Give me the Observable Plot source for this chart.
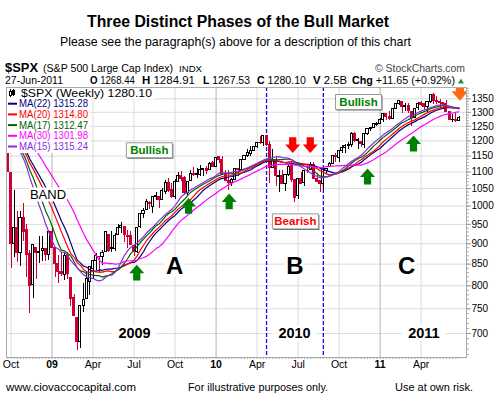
<!DOCTYPE html>
<html>
<head>
<meta charset="utf-8">
<script src="https://cdn.jsdelivr.net/npm/d3@7"></script>
<script src="https://cdn.jsdelivr.net/npm/@observablehq/plot@0.6"></script>
<style>
  html, body { margin: 0; padding: 0; background: #fff; }
  #chart { position: relative; width: 495px; height: 410px; overflow: hidden; background: #fff; }
</style>
</head>
<body>
<div id="chart"></div>
<script>
// ---- S&P 500 weekly bars (Monday of each week) ----
// closes of the 30 weeks before the first drawn bar (Mar 3 – Sep 22, 2008), used to seed the averages
const earlyClose = [1293.37,1288.14,1329.51,1315.22,1370.40,1332.83,1390.33,1397.84,1413.90,1388.28,
  1425.35,1375.93,1400.38,1360.68,1360.03,1317.93,1278.38,1262.90,1239.49,1260.68,
  1257.76,1260.31,1296.32,1298.20,1292.20,1282.83,1242.31,1251.70,1255.08,1213.27];

// drawn weeks: Sep 29, 2008 – Jun 27, 2011
const open = [1209,1097,900,941,877,968,936,874,801,888,
  877,881,887,872,929,890,850,832,825,869,
  818,774,730,684,757,772,809,839,857,868,
  866,879,923,887,887,923,940,944,918,919,
  894,879,942,979,990,1008,998,1027,1026,1017,
  1040,1067,1045,1026,1071,1088,1081,1037,1072,1094,
  1092,1091,1106,1108,1105,1127,1117,1146,1136,1092,
  1074,1066,1076,1110,1105,1138,1150,1157,1167,1179,
  1194,1192,1218,1188,1112,1137,1084,1087,1065,1092,
  1118,1077,1029,1078,1066,1103,1107,1122,1079,1073,
  1063,1103,1114,1126,1149,1144,1166,1176,1185,1186,
  1225,1199,1198,1186,1224,1241,1245,1256,1258,1271,
  1293,1284,1277,1311,1329,1339,1321,1322,1301,1281,
  1315,1333,1329,1320,1337,1365,1341,1337,1333,1331,
  1300,1272,1272,1268.44];
const high = [1209,1097,1044,985,984,1007,951,882,896,888,
  919,918,887,934,943,890,871,877,875,877,
  818,780,730,758,804,832,845,857,876,868,
  882,930,923,931,926,951,956,944,934,931,
  898,943,979,993,1018,1013,1028,1039,1026,1049,
  1074,1081,1065,1076,1097,1101,1085,1072,1105,1113,
  1112,1119,1108,1117,1129,1133,1145,1150,1150,1104,
  1104,1080,1112,1112,1139,1150,1170,1181,1182,1195,
  1214,1218,1219,1197,1173,1148,1105,1106,1092,1120,
  1131,1077,1078,1100,1103,1120,1130,1129,1095,1073,
  1105,1111,1131,1149,1160,1167,1184,1189,1196,1227,
  1228,1208,1198,1225,1241,1247,1259,1262,1278,1294,
  1296,1302,1311,1331,1344,1339,1333,1331,1301,1315,
  1337,1340,1329,1338,1364,1371,1359,1346,1337,1345,
  1304,1293,1299,1284.91];
const low = [1097,840,866,853,845,905,818,741,773,815,
  851,857,857,858,888,818,805,821,812,814,
  754,734,667,672,742,772,779,814,836,827,
  846,879,878,878,881,920,927,903,888,896,
  869,875,940,966,990,990,980,1017,992,1017,
  1034,1040,1020,1019,1068,1071,1033,1029,1072,1085,
  1079,1086,1086,1093,1105,1115,1115,1126,1091,1071,
  1045,1056,1076,1086,1105,1135,1144,1150,1165,1175,
  1189,1181,1183,1066,1110,1056,1040,1061,1043,1085,
  1069,1011,1018,1063,1056,1094,1106,1076,1069,1040,
  1047,1092,1113,1122,1131,1131,1160,1159,1171,1179,
  1194,1173,1177,1174,1218,1232,1243,1251,1257,1262,
  1271,1271,1276,1311,1324,1294,1303,1295,1249,1281,
  1305,1322,1306,1295,1334,1330,1330,1318,1312,1300,
  1270,1262,1265,1267.53];
const close = [1099,899,940,877,968,930,873,800,896,876,
  879,887,872,931,890,850,832,826,869,827,
  770,735,683,756,768,816,843,857,870,866,
  877,929,883,887,919,940,946,921,918,896,
  879,940,979,987,1010,1005,1026,1029,1016,1042,
  1068,1044,1025,1071,1087,1080,1036,1069,1093,1091,
  1091,1106,1106,1102,1126,1115,1145,1136,1092,1074,
  1066,1075,1109,1105,1139,1150,1160,1167,1179,1194,
  1192,1217,1187,1111,1136,1087,1089,1065,1092,1117,
  1076,1023,1078,1065,1103,1102,1122,1079,1071,1065,
  1105,1110,1125,1149,1146,1166,1176,1183,1183,1225,
  1199,1199,1189,1225,1240.40,1243.91,1256.77,1257.64,1271.50,1293.24,
  1283.35,1276.34,1310.87,1329.15,1343.01,1319.88,1321.15,1304.28,1279.20,1313.80,
  1332.41,1328.17,1319.68,1337.38,1363.61,1340.20,1337.77,1333.27,1331.10,1300.16,
  1270.98,1271.50,1268.45,1280.10];
const lastVolume = "2.5B";

// moving averages, in legend order
const maPeriods = [22, 20, 17, 30, 15];

// axis ticks
const yTicks = [700,750,800,850,900,950,1000,1050,1100,1150,1200,1250,1300,1350];
const quarterTicks = ["2008-10-06","2009-01-05","2009-04-06","2009-07-06","2009-10-05","2010-01-04",
  "2010-04-05","2010-07-05","2010-10-04","2011-01-03","2011-04-04"];
const quarterLabels = ["Oct","09","Apr","Jul","Oct","10","Apr","Jul","Oct","11","Apr"];

// annotations (anchored in date / price space)
const phaseBreaks = ["2010-04-26","2010-08-30"];
const phaseNames = ["A","B","C"];
const phaseNameDates = ["2009-10-04","2010-06-28","2011-03-03"];
const phaseNamePrice = 844;
const yearNames = ["2009","2010","2011"];
const yearNameDates = ["2009-07-07","2010-06-27","2011-04-10"];
const yearNamePrice = 700;
const upArrowDates = ["2009-07-12","2009-11-04","2010-02-02","2010-12-06","2011-03-18"];
const upArrowPrices = [830, 1000, 1013, 1086, 1191];
const downArrowDates = ["2010-06-23","2010-08-01"];
const downArrowPrice = 1186;
const exitArrowDates = ["2011-06-29"];
const exitArrowPrice = 1377;
const tagTexts = ["Bullish","Bullish","Bearish"];
const tagDates = ["2009-08-09","2010-11-16","2010-06-29"];
const tagPrices = [1169, 1338, 958];
const bandText = "BAND";
const bandDate = "2008-12-27";
const bandPrice = 1033;

// ---- styles ----
const FONT = "'Liberation Sans', Arial, Helvetica, sans-serif";
const RED = "#cc0033";
const maColors = ["#000080", "#ff0000", "#006400", "#ff00ff", "#8a2be2"];
const GRID = "#dcdcdc", GRID_YEAR = "#b4b4b4";
const DAY = 864e5;

// ---- derived tables ----
const weeks = d3.utcMonday.range(new Date(Date.UTC(2008, 2, 3)), new Date(Date.UTC(2011, 6, 1)));
const lead = earlyClose.length;
const allClose = earlyClose.concat(close);
const series = weeks.map((date, i) => ({date, close: allClose[i]}));
const bars = close.map((c, i) => ({
  date: weeks[lead + i], open: open[i], high: high[i], low: low[i], close: c, prev: allClose[lead + i - 1]
}));
const xStart = new Date(+bars[0].date - 3.0 * DAY);
const xEnd = new Date(+bars[0].date + 1017.6 * DAY);
const toDate = d => new Date(d);
const tone = d => (d.close < d.prev ? RED : "#000");
const isYear = s => /^\d+$/.test(s);

// block arrow and box shapes for Plot.dot
const arrow = (dir, s = 1) => ({
  draw(ctx) {
    const hw = 7.5 * s, sw = 3.6 * s, top = -8 * s, mid = 0.5 * s, bot = 7.8 * s;
    const f = dir === "up" ? 1 : -1;
    ctx.moveTo(0, f * top);
    ctx.lineTo(hw, f * mid); ctx.lineTo(sw, f * mid); ctx.lineTo(sw, f * bot);
    ctx.lineTo(-sw, f * bot); ctx.lineTo(-sw, f * mid); ctx.lineTo(-hw, f * mid);
    ctx.closePath();
  }
});
const box = (w, h) => ({draw(ctx) { ctx.rect(-w / 2, -h / 2, w, h); }});

const chart = Plot.plot({
  width: 495,
  height: 302,
  marginTop: 9,
  marginBottom: 23,
  marginLeft: 6,
  marginRight: 29,
  style: {background: "transparent", fontFamily: FONT, fontSize: "10px", overflow: "visible"},
  x: {type: "utc", domain: [xStart, xEnd]},
  y: {type: "log", domain: [654.5, 1393.5]},
  color: {type: "identity"},
  marks: [
    // grid
    Plot.ruleY(yTicks, {y: d => d, stroke: GRID}),
    Plot.ruleX(quarterTicks, {x: toDate, stroke: (d, i) => (isYear(quarterLabels[i]) ? GRID_YEAR : GRID)}),
    // phase boundaries
    Plot.ruleX(phaseBreaks, {x: toDate, stroke: "#1010e0", strokeWidth: 1.3, strokeDasharray: "4,2"}),
    // year captions on the 700 line
    Plot.dot(yearNames, {x: (d, i) => toDate(yearNameDates[i]), y: () => yearNamePrice, symbol: box(44, 16), fill: "#fff", stroke: null}),
    Plot.text(yearNames, {x: (d, i) => toDate(yearNameDates[i]), y: () => yearNamePrice, text: d => d, fontSize: 14.5, fontWeight: "bold", fill: "#000"}),
    // candles
    Plot.ruleX(bars, {x: "date", y1: "low", y2: "high", stroke: tone, strokeWidth: 1, shapeRendering: "crispEdges"}),
    Plot.rect(bars, {
      x1: d => new Date(+d.date - 2.3 * DAY),
      x2: d => new Date(+d.date + 2.3 * DAY),
      y1: d => Math.min(d.open, d.close),
      y2: d => Math.max(d.open, d.close, Math.min(d.open, d.close) * 1.002),
      fill: d => (d.close < d.open ? tone(d) : "#fff"),
      stroke: tone,
      strokeWidth: 1,
      shapeRendering: "crispEdges"
    }),
    // moving averages
    ...maPeriods.map((k, j) => Plot.lineY(series, Plot.windowY({k, anchor: "end", reduce: "mean"},
      {x: "date", y: "close", stroke: maColors[j], strokeWidth: 1.2, clip: true}))),
    // BAND caption
    Plot.dot([bandText], {x: () => toDate(bandDate), y: () => bandPrice, symbol: box(38, 14), fill: "#fff", stroke: null}),
    Plot.text([bandText], {x: () => toDate(bandDate), y: () => bandPrice, text: d => d, fontSize: 13, fill: "#000"}),
    // phase letters
    Plot.dot(phaseNames, {x: (d, i) => toDate(phaseNameDates[i]), y: () => phaseNamePrice, symbol: box(20, 20), fill: "#fff", stroke: null}),
    Plot.text(phaseNames, {x: (d, i) => toDate(phaseNameDates[i]), y: () => phaseNamePrice, text: d => d, fontSize: 24, fontWeight: "bold", fill: "#000"}),
    // arrows
    Plot.dot(upArrowDates, {x: toDate, y: (d, i) => upArrowPrices[i], symbol: arrow("up"), fill: "#008000", stroke: null}),
    Plot.dot(downArrowDates, {x: toDate, y: () => downArrowPrice, symbol: arrow("down"), fill: "#ff0000", stroke: null}),
    Plot.dot(exitArrowDates, {x: toDate, y: () => exitArrowPrice, symbol: arrow("down", 1.12), fill: "#ff6a10", stroke: null, clip: true}),
    // Bullish / Bearish tags
    Plot.dot(tagTexts, {x: (d, i) => toDate(tagDates[i]), y: (d, i) => tagPrices[i], symbol: box(46, 15), fill: "#666", stroke: null, dx: 1, dy: 1}),
    Plot.dot(tagTexts, {x: (d, i) => toDate(tagDates[i]), y: (d, i) => tagPrices[i], symbol: box(46, 15), fill: "#fff", stroke: "#999", strokeWidth: 1}),
    Plot.text(tagTexts, {x: (d, i) => toDate(tagDates[i]), y: (d, i) => tagPrices[i], text: d => d, fontSize: 11.5, fontWeight: "bold",
      fill: d => (d === "Bearish" ? "#ff0000" : "#008000")}),
    // axes
    Plot.axisY({anchor: "right", ticks: d3.range(660, 1400, 10), tickSize: 2, tickFormat: () => "", stroke: "#aaa", label: null}),
    Plot.axisY({anchor: "right", ticks: yTicks, tickSize: 4, tickFormat: () => "", stroke: "#999", label: null}),
    Plot.text(yTicks, {y: d => d, text: d => String(d), frameAnchor: "right", dx: 5, textAnchor: "start", fontSize: 10, fill: "#000"}),
    Plot.axisX({ticks: bars.map(d => d.date), tickSize: 2, tickFormat: () => "", stroke: "#aaa", label: null}),
    Plot.text(quarterTicks, {x: toDate, text: (d, i) => quarterLabels[i], frameAnchor: "bottom", dy: 10, fontSize: 10.5,
      filter: (d, i) => !isYear(quarterLabels[i]), fill: "#000"}),
    Plot.text(quarterTicks, {x: toDate, text: (d, i) => quarterLabels[i], frameAnchor: "bottom", dy: 10, fontSize: 10.5, fontWeight: "bold",
      filter: (d, i) => isYear(quarterLabels[i]), fill: "#000"}),
    Plot.frame({stroke: "#aaa"})
  ]
});
chart.style.position = "absolute";
chart.style.left = "0px";
chart.style.top = "78px";

const root = document.getElementById("chart");
root.appendChild(chart);

// ---- titles, header, legend, footer ----
const over = d3.create("svg")
  .attr("width", 495).attr("height", 410)
  .style("position", "absolute").style("left", "0px").style("top", "0px")
  .attr("font-family", FONT);

function put(parts, x, y, o = {}) {
  const t = over.append("text").attr("x", x).attr("y", y)
    .attr("font-size", o.size || 11).attr("fill", o.fill || "#000")
    .attr("text-anchor", o.anchor || "start");
  if (o.weight) t.attr("font-weight", o.weight);
  if (o.len) t.attr("textLength", o.len).attr("lengthAdjust", "spacingAndGlyphs");
  for (const p of [].concat(parts)) {
    const s = typeof p === "string" ? {text: p} : p;
    const ts = t.append("tspan").text(s.text);
    if (s.weight) ts.attr("font-weight", s.weight);
    if (s.fill) ts.attr("fill", s.fill);
  }
  return t;
}

const last = bars[bars.length - 1];
const chg = last.close - last.prev;
const fmt = v => v.toFixed(2);
// two-decimal rounding, ties to even
const fmtEven = v => {
  const r = v * 100, f = Math.floor(r);
  const n = Math.abs(r - f - 0.5) < 1e-6 ? (f % 2 === 0 ? f : f + 1) : Math.round(r);
  return (n / 100).toFixed(2);
};

put("Three Distinct Phases of the Bull Market", 238, 27, {size: 16, weight: "bold", anchor: "middle", len: 302});
put("Please see the paragraph(s) above for a description of this chart", 235.5, 46, {size: 12.4, anchor: "middle", len: 351});

put("$SPX", 5, 71.5, {size: 13, weight: "bold", len: 33});
put("(S&P 500 Large Cap Index)", 43, 71.5, {size: 10.6, len: 130});
put("INDX", 179, 71.5, {size: 9.6, len: 23});
put("\u00a9 StockCharts.com", 375, 71.5, {size: 10.5, len: 90, fill: "#444"});

const row2 = 83.5, row2Size = 10;
put(d3.utcFormat("%d-%b-%Y")(last.date), 5, row2, {size: row2Size, len: 58});
put([{text: "O", weight: "bold"}, " " + fmt(last.open)], 90, row2, {size: row2Size, len: 45});
put([{text: "H", weight: "bold"}, " " + fmt(last.high)], 142, row2, {size: row2Size, len: 53});
put([{text: "L", weight: "bold"}, " " + fmt(last.low)], 203, row2, {size: row2Size, len: 47});
put([{text: "C", weight: "bold"}, " " + fmt(last.close)], 257, row2, {size: row2Size, len: 49});
put([{text: "V", weight: "bold"}, " " + lastVolume], 313, row2, {size: row2Size, len: 34});
put([{text: "Chg", weight: "bold"}, ` ${chg >= 0 ? "+" : ""}${fmt(chg)} (${chg >= 0 ? "+" : ""}${fmt(chg / last.prev * 100)}%)`], 352, row2, {size: row2Size, len: 103});
over.append("path").attr("d", "M458,83.5L461,78.5L464,83.5Z").attr("fill", "#2e8b3a");

// legend block
over.append("rect").attr("x", 7).attr("y", 88).attr("width", 147).attr("height", 11).attr("fill", "#fff");
over.append("rect").attr("x", 7).attr("y", 99).attr("width", 83).attr("height", 54).attr("fill", "#fff");
const icon = over.append("g").attr("stroke", "#000").attr("stroke-width", 1).attr("shape-rendering", "crispEdges");
icon.append("line").attr("x1", 10.5).attr("x2", 10.5).attr("y1", 89).attr("y2", 97);
icon.append("rect").attr("x", 9.5).attr("y", 91.5).attr("width", 2).attr("height", 4).attr("fill", "#fff");
icon.append("line").attr("x1", 13.5).attr("x2", 13.5).attr("y1", 89).attr("y2", 96);
icon.append("rect").attr("x", 12.5).attr("y", 90.5).attr("width", 2).attr("height", 4).attr("fill", "#000");
put(`$SPX (Weekly) ${fmt(last.close)}`, 21, 96.5, {size: 10.5, len: 131});
maPeriods.forEach((k, j) => {
  const y = 107.2 + j * 10.7;
  const v = d3.mean(allClose.slice(-k));
  over.append("line").attr("x1", 8).attr("x2", 17).attr("y1", y - 3.5).attr("y2", y - 3.5)
    .attr("stroke", maColors[j]).attr("stroke-width", 2);
  put(`MA(${k}) ${fmtEven(v)}`, 19, y, {size: 10.2, len: 69, fill: maColors[j]});
});

// footer
put("www.ciovaccocapital.com", 6, 391, {size: 11, len: 130});
put("For illustrative purposes only.", 188, 391, {size: 11, len: 140});
put("Use at own risk.", 395, 391, {size: 11, len: 78});

root.appendChild(over.node());
</script>
</body>
</html>
